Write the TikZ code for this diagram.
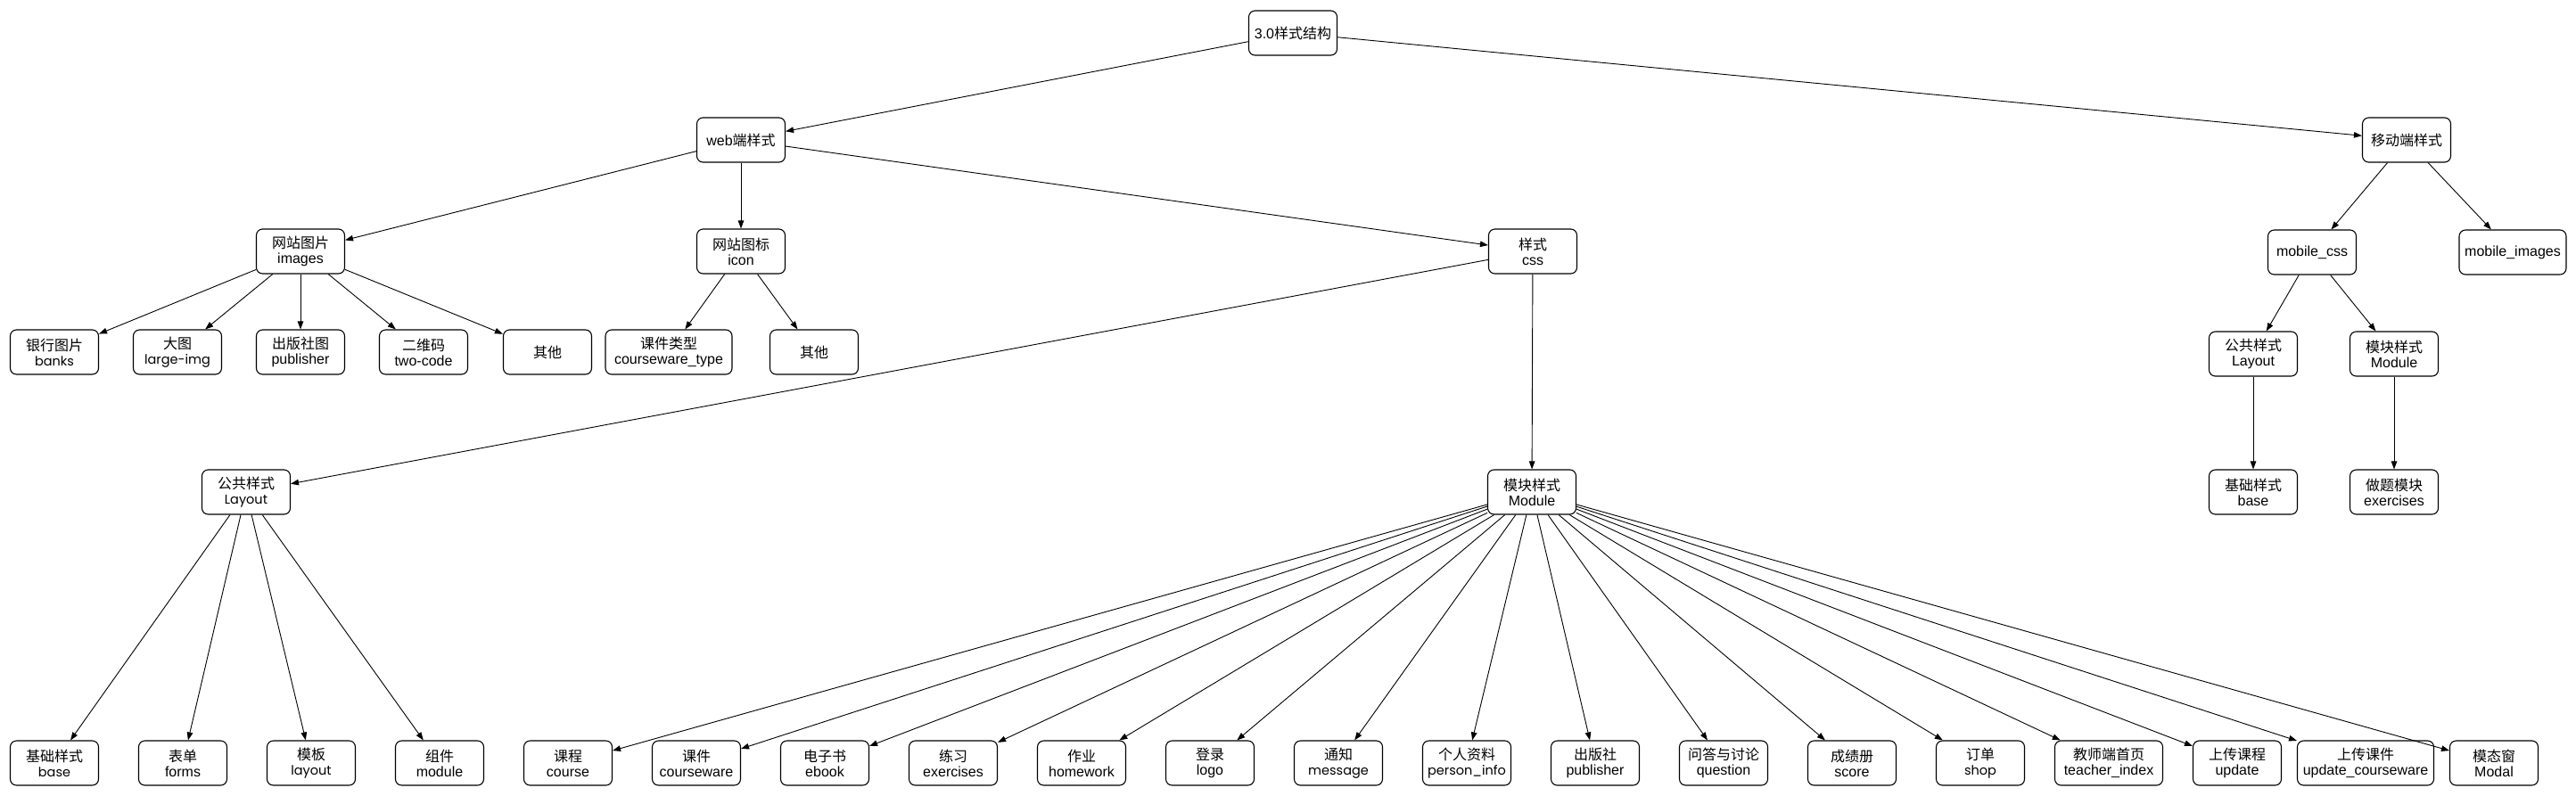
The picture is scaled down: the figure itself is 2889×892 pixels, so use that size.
\documentclass[tikz,border=0pt]{standalone}
\usepackage{fontspec}
\setmainfont{Liberation Sans}
\newfontfamily\cjk{Noto Sans CJK SC}
\newfontfamily\geo{Poppins}
\usetikzlibrary{arrows.meta}
\newcommand{\geotext}[1]{{\geo\fontsize{14.5}{17}\selectfont #1}}

\begin{document}
\begin{tikzpicture}[x=1pt, y=-1pt,
    box/.style={draw, rounded corners=7pt, minimum width=99pt, minimum height=50pt,
        inner xsep=3pt, inner ysep=2pt, align=center, line width=1.1pt,
        font=\fontsize{16}{17}\selectfont},
    link/.style={-{Triangle[length=9pt,width=6.5pt]}, line width=0.9pt}]
                \fill[white] (0,0) rectangle (2889,892);
                \useasboundingbox (0,0) rectangle (2889,892);

                % Top levels
                \node[box] (root) at (1450,37) {3.0{\cjk 样式结构}};
                \node[box] (web) at (831,157) {web{\cjk 端样式}};
                \node[box] (mobile) at (2699,157) {\cjk 移动端样式};

                % Web branch
                \node[box] (img) at (337,282) {{\cjk 网站图片}\\images};
                \node[box] (icon) at (831,282) {{\cjk 网站图标}\\icon};
                \node[box] (css) at (1719,282) {{\cjk 样式}\\css};

                \node[box] (bank) at (61,395) {{\cjk 银行图片}\\\geotext{banks}};
                \node[box] (big) at (199,395) {{\cjk 大图}\\\geotext{large-img}};
                \node[box] (pubimg) at (337,395) {{\cjk 出版社图}\\publisher};
                \node[box] (qr) at (475,395) {{\cjk 二维码}\\two-code};
                \node[box] (other) at (614,395) {\cjk 其他};
                \node[box, minimum width=142pt] (cwtype) at (750,395) {{\cjk 课件类型}\\courseware\_type};
                \node[box] (iother) at (913,395) {\cjk 其他};

                \node[box] (layout) at (276,552) {{\cjk 公共样式}\\\geotext{Layout}};
                \node[box] (module) at (1718,552) {{\cjk 模块样式}\\Module};

                % Layout children
                \node[box] (base) at (61,856) {{\cjk 基础样式}\\\geotext{base}};
                \node[box] (forms) at (205,856) {{\cjk 表单}\\forms};
                \node[box] (tpl) at (349,856) {{\cjk 模板}\\\geotext{layout}};
                \node[box] (comp) at (493,856) {{\cjk 组件}\\module};

                % Module children
                \node[box] (course) at (637,856) {{\cjk 课程}\\course};
                \node[box] (cware) at (781,856) {{\cjk 课件}\\courseware};
                \node[box] (ebook) at (925,856) {{\cjk 电子书}\\ebook};
                \node[box] (exer) at (1069,856) {{\cjk 练习}\\exercises};
                \node[box] (hwork) at (1213,856) {{\cjk 作业}\\homework};
                \node[box] (logo) at (1357,856) {{\cjk 登录}\\logo};
                \node[box] (msg) at (1501,856) {{\cjk 通知}\\\geotext{message}};
                \node[box] (pinfo) at (1645,856) {{\cjk 个人资料}\\\geotext{person\_info}};
                \node[box] (pub) at (1789,856) {{\cjk 出版社}\\publisher};
                \node[box] (ques) at (1933,856) {{\cjk 问答与讨论}\\question};
                \node[box] (score) at (2077,856) {{\cjk 成绩册}\\score};
                \node[box] (shop) at (2221,856) {{\cjk 订单}\\\geotext{shop}};
                \node[box, minimum width=121pt] (tindex) at (2365,856) {{\cjk 教师端首页}\\teacher\_index};
                \node[box] (upd) at (2509,856) {{\cjk 上传课程}\\update};
                \node[box, minimum width=153pt] (updcw) at (2653,856) {{\cjk 上传课件}\\update\_courseware};
                \node[box] (modal) at (2797,856) {{\cjk 模态窗}\\Modal};

                % Mobile branch
                \node[box] (mcss) at (2593,283) {mobile\_css};
                \node[box, minimum width=120pt] (mimg) at (2818,283) {mobile\_images};
                \node[box] (mlayout) at (2527,397) {{\cjk 公共样式}\\Layout};
                \node[box] (mmodule) at (2685,397) {{\cjk 模块样式}\\Module};
                \node[box] (mbase) at (2527,552) {{\cjk 基础样式}\\base};
                \node[box] (mexer) at (2685,552) {{\cjk 做题模块}\\exercises};

                % Edges
                \draw[link] (root) -- (web);
                \draw[link] (root) -- (mobile);
                \draw[link] (web) -- (img);
                \draw[link] (web) -- (icon);
                \draw[link] (web) -- (css);
                \draw[link] (img) -- (bank);
                \draw[link] (img) -- (big);
                \draw[link] (img) -- (pubimg);
                \draw[link] (img) -- (qr);
                \draw[link] (img) -- (other);
                \draw[link] (icon) -- (cwtype);
                \draw[link] (icon) -- (iother);
                \draw[link] (css) -- (layout);
                \draw[link] (css) -- (module);
                \draw[link] (layout) -- (base);
                \draw[link] (layout) -- (forms);
                \draw[link] (layout) -- (tpl);
                \draw[link] (layout) -- (comp);
                \draw[link] (module) -- (course);
                \draw[link] (module) -- (cware);
                \draw[link] (module) -- (ebook);
                \draw[link] (module) -- (exer);
                \draw[link] (module) -- (hwork);
                \draw[link] (module) -- (logo);
                \draw[link] (module) -- (msg);
                \draw[link] (module) -- (pinfo);
                \draw[link] (module) -- (pub);
                \draw[link] (module) -- (ques);
                \draw[link] (module) -- (score);
                \draw[link] (module) -- (shop);
                \draw[link] (module) -- (tindex);
                \draw[link] (module) -- (upd);
                \draw[link] (module) -- (updcw);
                \draw[link] (module) -- (modal);
                \draw[link] (mobile) -- (mcss);
                \draw[link] (mobile) -- (mimg);
                \draw[link] (mcss) -- (mlayout);
                \draw[link] (mcss) -- (mmodule);
                \draw[link] (mlayout) -- (mbase);
                \draw[link] (mmodule) -- (mexer);
\end{tikzpicture}
\end{document}
